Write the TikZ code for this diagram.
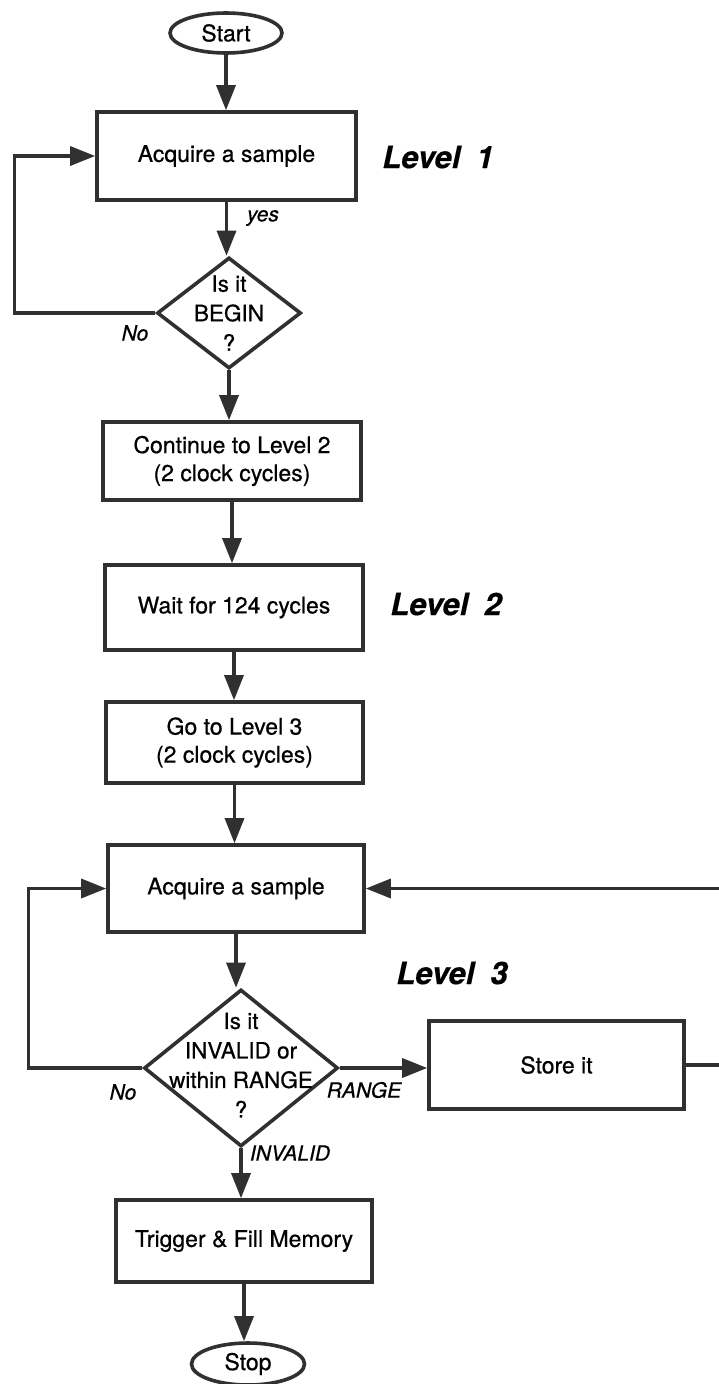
\documentclass[tikz,border=0pt]{standalone}
\usepackage{fontspec}
\setmainfont[FakeBold=0.6]{TeX Gyre Heros}
\newfontfamily\levelfont[FakeBold=0.4]{TeX Gyre Heros}
\usetikzlibrary{shapes.geometric,arrows.meta}

\definecolor{ink}{RGB}{48,48,48}
\newcommand\flowfont{\fontsize{23}{28}\selectfont}
\newcommand\askfont{\fontsize{22.5}{29.5}\selectfont}

\tikzset{
  flowline/.style={draw=ink, line width=3.3pt},
  flowarrow/.style={flowline, -{Triangle[length=25pt,width=19pt]}},
  stepbox/.style={rectangle, draw=ink, line width=3.6pt, inner sep=0pt, align=center, font=\flowfont},
  terminal/.style={ellipse, draw=ink, line width=3.6pt, inner sep=0pt, font=\flowfont},
  decision/.style={diamond, draw=ink, line width=3.6pt, inner sep=0pt},
  decisiontext/.style={align=center, inner sep=0pt, font=\askfont},
  branchlabel/.style={inner sep=0pt, font=\itshape\fontsize{21}{24}\selectfont},
  levellabel/.style={inner sep=0pt, font=\levelfont\bfseries\itshape\fontsize{31}{36}\selectfont},
}

\begin{document}
\begin{tikzpicture}[x=1pt, y=-1pt]
\useasboundingbox (0,0) rectangle (718,1384);

% Level 1
\node[terminal, minimum width=112pt, minimum height=40pt] (start) at (226,33) {Start};
\node[stepbox, minimum width=259pt, minimum height=88pt] (acq1) at (226.5,156) {Acquire a sample};
\node[decision, minimum width=144pt, minimum height=111pt] (begin) at (229,313) {};
\node[decisiontext] (begintext) at (229,313) {Is it\\BEGIN\\?};
\node[stepbox, minimum width=258pt, minimum height=78pt] (cont) at (232,461) {Continue to Level 2\\(2 clock cycles)};

% Level 2
\node[stepbox, minimum width=258pt, minimum height=85pt] (wait) at (234,607.5) {Wait for 124 cycles};
\node[stepbox, minimum width=257pt, minimum height=81pt] (goto) at (234.5,742.5) {Go to Level 3\\(2 clock cycles)};

% Level 3
\node[stepbox, minimum width=256pt, minimum height=87pt] (acq2) at (236,888.5) {Acquire a sample};
\node[decision, minimum width=194pt, minimum height=157pt] (check) at (241,1068) {};
\node[decisiontext] (checktext) at (241,1065) {Is it\\INVALID or\\within RANGE\\?};
\node[stepbox, minimum width=255pt, minimum height=88pt] (store) at (556.5,1065) {Store it};
\node[stepbox, minimum width=256pt, minimum height=82pt] (trig) at (244,1241) {Trigger \& Fill Memory};
\node[terminal, minimum width=113pt, minimum height=42pt] (stop) at (248,1364) {Stop};

% level captions
\node[levellabel] (lvl1) at (438,157) {Level\hspace{16pt}1};
\node[levellabel] (lvl2) at (446,604) {Level\hspace{16pt}2};
\node[levellabel] (lvl3) at (452,973) {Level\hspace{16pt}3};

% branch labels
\node[branchlabel] (yes) at (263,218) {yes};
\node[branchlabel] (no1) at (135,333) {No};
\node[branchlabel] (no2) at (123,1092) {No};
\node[branchlabel] (range) at (364,1090) {RANGE};
\node[branchlabel] (invalid) at (290,1153) {INVALID};

% main flow
\draw[flowarrow] (start.south) -- (start.south |- acq1.north);
\draw[flowarrow] (acq1.south) -- (acq1.south |- begin.north);
\draw[flowarrow] (begin.south) -- (begin.south |- cont.north);
\draw[flowarrow] (cont.south) -- (cont.south |- wait.north);
\draw[flowarrow] (wait.south) -- (wait.south |- goto.north);
\draw[flowarrow] (goto.south) -- (goto.south |- acq2.north);
\draw[flowarrow] (acq2.south) -- (acq2.south |- check.north);
\draw[flowarrow] (check.south) -- (check.south |- trig.north);
\draw[flowarrow] (trig.south) -- (trig.south |- stop.north);

% loops and branches
\draw[flowarrow] (begin.west) -- ++(-141,0) |- (acq1.west);
\draw[flowarrow] (check.west) -- ++(-114,0) |- (acq2.west);
\draw[flowarrow] (check.east) -- (check.east -| store.west);
\draw[flowarrow] (store.east) -- ++(50,0) |- (acq2.east);
\end{tikzpicture}
\end{document}
